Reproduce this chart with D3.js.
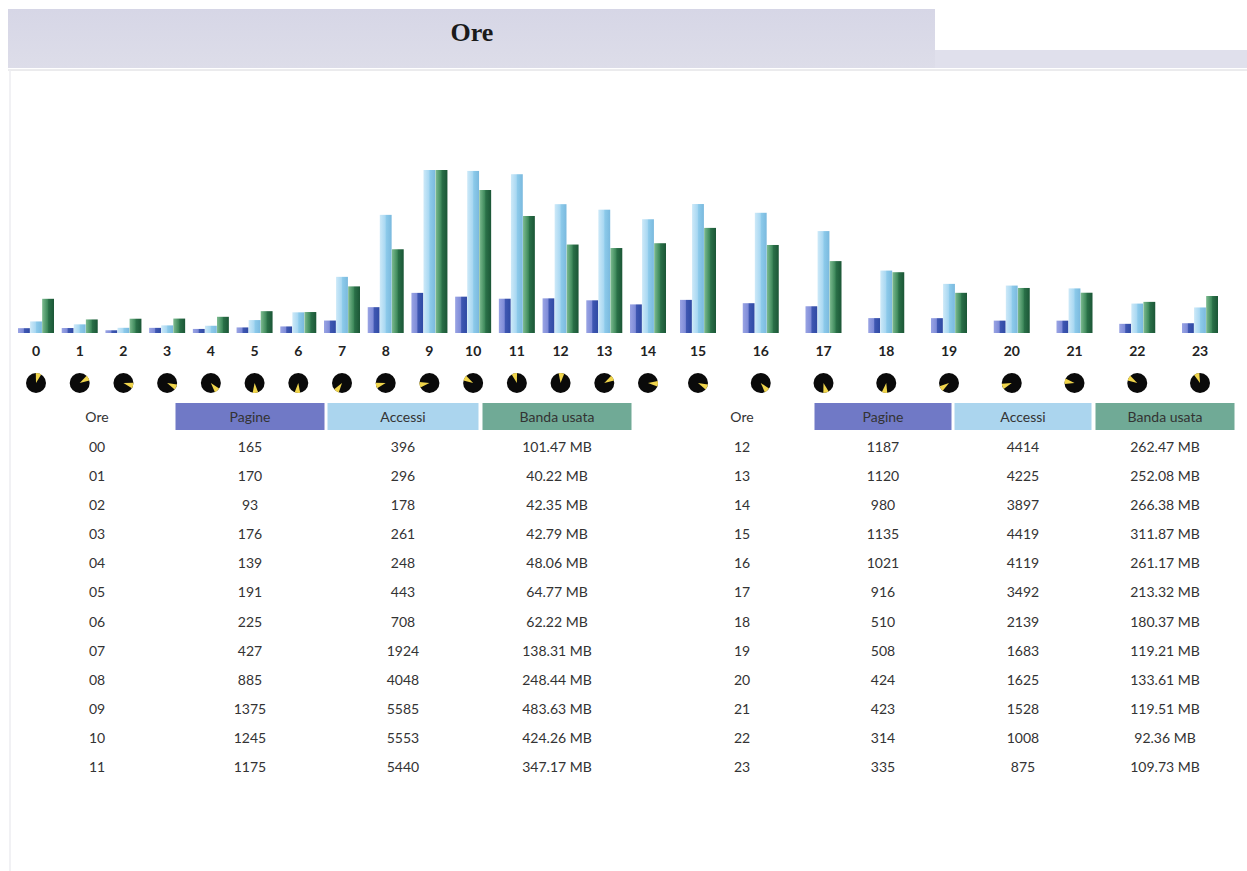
<!DOCTYPE html>
<html>
<head>
<meta charset="utf-8">
<script src="https://d3js.org/d3.v7.min.js"></script>
<style>
  body { margin: 0; background: #fff; }
  text { font-family: Lato, "Open Sans", sans-serif; }
</style>
</head>
<body>
<script>
  // hourly stats
  var hours = d3.range(24);
  var pagine = [165, 170, 93, 176, 139, 191, 225, 427, 885, 1375, 1245, 1175,
                1187, 1120, 980, 1135, 1021, 916, 510, 508, 424, 423, 314, 335];
  var accessi = [396, 296, 178, 261, 248, 443, 708, 1924, 4048, 5585, 5553, 5440,
                 4414, 4225, 3897, 4419, 4119, 3492, 2139, 1683, 1625, 1528, 1008, 875];
  var banda = [101.47, 40.22, 42.35, 42.79, 48.06, 64.77, 62.22, 138.31, 248.44, 483.63, 424.26, 347.17,
               262.47, 252.08, 266.38, 311.87, 261.17, 213.32, 180.37, 119.21, 133.61, 119.51, 92.36, 109.73];
  // direction of the yellow wedge on each little pie (degrees, clockwise from top)
  var wedgeAngles = [15, 60, 105, 115, 140, 175, 185, 215, 255, 260, 300, 345,
                     5, 60, 95, 115, 140, 165, 190, 235, 250, 280, 300, 340];
  var headers = ["Ore", "Pagine", "Accessi", "Banda usata"];

  var W = 1247, H = 871;
  var svg = d3.select("body").append("svg").attr("width", W).attr("height", H);
  var defs = svg.append("defs");

  // title band
  var tg = defs.append("linearGradient").attr("id", "titleGrad").attr("x1", 0).attr("x2", 0).attr("y1", 0).attr("y2", 1);
  tg.append("stop").attr("offset", "0%").attr("stop-color", "#d6d6e6");
  tg.append("stop").attr("offset", "100%").attr("stop-color", "#dddde9");
  svg.append("rect").attr("x", 8).attr("y", 9).attr("width", 927).attr("height", 59).attr("fill", "url(#titleGrad)");
  svg.append("rect").attr("x", 935).attr("y", 50).attr("width", 312).attr("height", 18).attr("fill", "#e0e0ec");
  svg.append("line").attr("x1", 8).attr("x2", W).attr("y1", 70).attr("y2", 70).attr("stroke", "#d8d8dc").attr("stroke-width", 1);
  svg.append("line").attr("x1", 10).attr("x2", 10).attr("y1", 70).attr("y2", H).attr("stroke", "#ececf0").attr("stroke-width", 1.5);
  svg.append("text").attr("x", 472).attr("y", 41).attr("text-anchor", "middle")
    .style("font-family", "'Liberation Serif', 'DejaVu Serif', serif").style("font-size", "26px").style("font-weight", "bold")
    .attr("fill", "#1a1a1a").text("Ore");

  // gradients for bars
  var barColors = {
    pagine: ["#9aa4e4", "#7f8cd8", "#3f57b2", "#2f4aa4"],
    accessi: ["#cde9f8", "#a9d8f2", "#8ccaea", "#7ab9de"],
    banda: ["#7dbb90", "#3f8a5c", "#2a7048", "#1b5636"]
  };
  Object.keys(barColors).forEach(function (k) {
    var g = defs.append("linearGradient").attr("id", "g_" + k).attr("x1", 0).attr("x2", 1);
    var c = barColors[k];
    g.append("stop").attr("offset", "0%").attr("stop-color", c[0]);
    g.append("stop").attr("offset", "45%").attr("stop-color", c[1]);
    g.append("stop").attr("offset", "55%").attr("stop-color", c[2]);
    g.append("stop").attr("offset", "100%").attr("stop-color", c[3]);
  });

  // scales
  var x = d3.scaleLinear().domain([0, 14, 15, 23]).range([36, 648, 698, 1200]);
  var sub = d3.scaleBand().domain(["pagine", "accessi", "banda"]).range([-18, 18]).paddingInner(0.02);
  var baseY = 333, topY = 170;
  var yCount = d3.scaleLinear().domain([0, d3.max(accessi)]).range([baseY, topY]);
  var yBand = d3.scaleLinear().domain([0, d3.max(banda)]).range([baseY, topY]);

  var rows = hours.map(function (h) {
    return { h: h, pagine: pagine[h], accessi: accessi[h], banda: banda[h] };
  });

  var groups = svg.append("g").selectAll("g").data(rows).enter().append("g")
    .attr("transform", function (d) { return "translate(" + x(d.h) + ",0)"; });

  groups.each(function (d) {
    var g = d3.select(this);
    [["pagine", yCount], ["accessi", yCount], ["banda", yBand]].forEach(function (s) {
      var yy = s[1](d[s[0]]);
      g.append("rect")
        .attr("x", sub(s[0]))
        .attr("y", yy)
        .attr("width", sub.bandwidth())
        .attr("height", baseY - yy)
        .attr("fill", "url(#g_" + s[0] + ")");
    });
  });

  // hour labels
  groups.append("text").attr("y", 356).attr("text-anchor", "middle")
    .style("font-size", "14px").style("font-weight", "bold").attr("fill", "#222")
    .text(function (d) { return d.h; });

  // little pies
  var arc = d3.arc().innerRadius(0).outerRadius(10);
  groups.append("circle").attr("cy", 383).attr("r", 10).attr("fill", "#0a0a0a");
  groups.append("path")
    .attr("transform", "translate(0,383)")
    .attr("fill", "#f0d54c")
    .attr("d", function (d) {
      var a = wedgeAngles[d.h] * Math.PI / 180;
      return arc({ startAngle: a - 0.28, endAngle: a + 0.28 });
    });

  // tables
  var headFill = [null, "#7079c6", "#abd5ee", "#70aa96"];
  var tables = [
    { rows: rows.slice(0, 12), cols: [97, 250, 403, 557], widths: [0, 149, 151, 149] },
    { rows: rows.slice(12), cols: [742, 883, 1023, 1165], widths: [0, 137, 137, 139] }
  ];
  var rowY = d3.scaleLinear().domain([0, 11]).range([452, 772]);

  tables.forEach(function (t) {
    var tg = svg.append("g");
    headers.forEach(function (hd, i) {
      if (headFill[i]) {
        tg.append("rect").attr("x", t.cols[i] - t.widths[i] / 2).attr("y", 403)
          .attr("width", t.widths[i]).attr("height", 27).attr("fill", headFill[i]);
      }
      tg.append("text").attr("x", t.cols[i]).attr("y", 422).attr("text-anchor", "middle")
        .style("font-size", "14px").attr("fill", "#333").text(hd);
    });
    t.rows.forEach(function (r, j) {
      var vals = [d3.format("02d")(r.h), r.pagine, r.accessi, r.banda.toFixed(2) + " MB"];
      vals.forEach(function (v, i) {
        tg.append("text").attr("x", t.cols[i]).attr("y", rowY(j)).attr("text-anchor", "middle")
          .style("font-size", "14px").attr("fill", "#333").text(v);
      });
    });
  });
</script>
</body>
</html>
